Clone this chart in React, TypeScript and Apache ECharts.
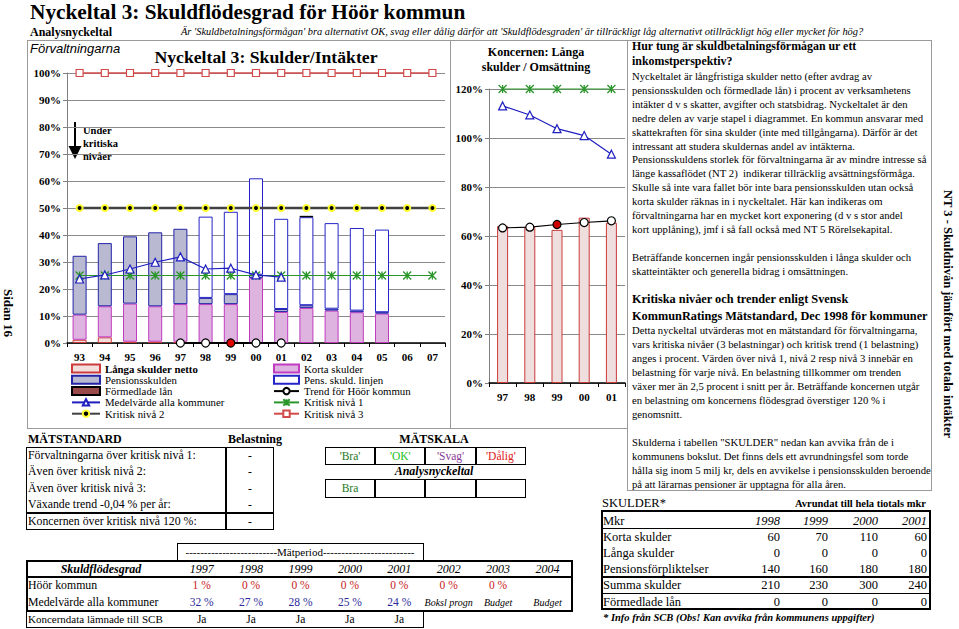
import React, { useEffect, useRef } from 'react';
import * as echarts from 'echarts';

// ---------- chart data ----------
const years = ['93', '94', '95', '96', '97', '98', '99', '00', '01', '02', '03', '04', '05', '06', '07'];
const langaSkulder = [1.2, 2.1, 0.5, 0.5, 0.5, null, null, null, null, null, null, null, null, null, null];
const kortaSkulder = [9.3, 11.5, 14.1, 13.1, 13.9, 14.4, 14.4, 24.1, 11.5, 13.0, 12.0, 11.4, 10.9, null, null];
const pensionsskulden = [21.8, 23.4, 24.9, 27.4, 27.9, 2.3, 3.7, 1.2, 1.1, 1.0, 0.7, 0.6, 0.5, null, null];
const pensLinjen = [null, null, null, null, null, 30.1, 30.5, 35.7, 33.4, 32.6, 31.7, 30.6, 30.6, null, null];
const formedladeLan = [null, null, null, null, null, null, null, null, null, 0.5, null, null, null, null, null];
const medelvarde = [23.7, 25.2, 27.4, 29.9, 31.9, 27.4, 27.7, 25.2, 24.4, null, null, null, null, null, null];
const kritisk1 = [25, 25, 25, 25, 25, 25, 25, 25, 25, 25, 25, 25, 25, 25, 25];
const kritisk2 = [50, 50, 50, 50, 50, 50, 50, 50, 50, 50, 50, 50, 50, 50, 50];
const kritisk3 = [100, 100, 100, 100, 100, 100, 100, 100, 100, 100, 100, 100, 100, 100, 100];
const trendHoor = [null, null, null, null, 0, 0, 0, 0, 0, null, null, null, null, null, null];
const yTicksMain = [0, 100, 10];

const koncYears = ['97', '98', '99', '00', '01'];
const koncLanga = [64.1, 63.6, 62.5, 67.5, 65.4];
const koncMedel = [113.1, 109.4, 103.8, 101.0, 93.4];
const koncKritisk = [120, 120, 120, 120, 120];
const koncTrend = [63.3, 63.6, 64.7, 65.5, 66.2];
const yTicksKonc = [0, 120, 20];

// ---------- table data ----------
const matYears = ['1997', '1998', '1999', '2000', '2001', '2002', '2003', '2004'];
const hoorValues = ['1 %', '0 %', '0 %', '0 %', '0 %', '0 %', '0 %', ''];
const medelValues = ['32 %', '27 %', '28 %', '25 %', '24 %'];
const medelNotes = ['Boksl progn', 'Budget', 'Budget'];
const koncernData = ['Ja', 'Ja', 'Ja', 'Ja', 'Ja'];
const skulderYears = ['1998', '1999', '2000', '2001'];
const kortaMkr = [60, 70, 110, 60];
const langaMkr = [0, 0, 0, 0];
const pensMkr = [140, 160, 180, 180];
const summaMkr = [210, 230, 300, 240];
const formedlMkr = [0, 0, 0, 0];
const matstandardRows = [
  'Förvaltningarna över kritisk nivå 1:',
  'Även över kritisk nivå 2:',
  'Även över kritisk nivå 3:',
  'Växande trend -0,04 % per år:',
  'Koncernen över kritisk nivå 120 %:',
];
const belastning = ['-', '-', '-', '-', '-'];
const matskala = [
  { t: "'Bra'", c: '#1a7a1a' },
  { t: "'OK'", c: '#22c022' },
  { t: "'Svag'", c: '#8a3a9a' },
  { t: "'Dålig'", c: '#e02020' },
];

const heading1 = ['Hur tung är skuldbetalningsförmågan ur ett', 'inkomstperspektiv?'];
const body1 = [
  'Nyckeltalet är långfristiga skulder netto (efter avdrag av',
  'pensionsskulden och förmedlade lån) i procent av verksamhetens',
  'intäkter d v s skatter, avgifter och statsbidrag. Nyckeltalet är den',
  'nedre delen av varje stapel i diagrammet. En kommun ansvarar med',
  'skattekraften för sina skulder (inte med tillgångarna). Därför är det',
  'intressant att studera skuldernas andel av intäkterna.',
  'Pensionsskuldens storlek för förvaltningarna är av mindre intresse så',
  'länge kassaflödet (NT 2)  indikerar tillräcklig avsättningsförmåga.',
  'Skulle så inte vara fallet bör inte bara pensionsskulden utan också',
  'korta skulder räknas in i nyckeltalet. Här kan indikeras om',
  'förvaltningarna har en mycket kort exponering (d v s stor andel',
  'kort upplåning), jmf i så fall också med NT 5 Rörelsekapital.',
  '',
  'Beträffande koncernen ingår pensionsskulden i långa skulder och',
  'skatteintäkter och generella bidrag i omsättningen.',
];
const heading2 = ['Kritiska nivåer och trender enligt Svensk', 'KommunRatings Mätstandard, Dec 1998 för kommuner'];
const body2 = [
  'Detta nyckeltal utvärderas mot en mätstandard för förvaltningarna,',
  'vars kritiska nivåer (3 belastningar) och kritisk trend (1 belastning)',
  'anges i procent. Värden över nivå 1, nivå 2 resp nivå 3 innebär en',
  'belastning för varje nivå. En belastning tillkommer om trenden',
  'växer mer än 2,5 procent i snitt per år. Beträffande koncernen utgår',
  'en belastning om koncernens flödesgrad överstiger 120 % i',
  'genomsnitt.',
  '',
  'Skulderna i tabellen "SKULDER" nedan kan avvika från de i',
  'kommunens bokslut. Det finns dels ett avrundningsfel som torde',
  'hålla sig inom 5 milj kr, dels en avvikelse i pensionsskulden beroende',
  'på att lärarnas pensioner är upptagna för alla åren.',
];

const SERIF = 'Liberation Serif';
const FONT = "'Liberation Serif', 'Times New Roman', serif";
const asterisk = 'path://M0,0L10,10M10,0L0,10M5,0L5,10';

const RED = '#cc3a3a';
const BLUE = '#1f1fbf';
const GREEN = '#2a962a';

function buildOption(): any {
  const lbl = { fontFamily: SERIF, fontSize: 11, fontWeight: 'bold', color: '#000' };
  const xAx = (gi: number, data: string[]) => ({
    type: 'category',
    gridIndex: gi,
    data,
    axisLine: { lineStyle: { color: '#000', width: 1.5 } },
    axisTick: { show: true, length: 4, lineStyle: { color: '#000' } },
    axisLabel: { ...lbl, margin: 8, interval: 0 },
    splitLine: { show: false },
  });
  const yAx = (gi: number, t: number[]) => ({
    type: 'value',
    gridIndex: gi,
    min: t[0],
    max: t[1],
    interval: t[2],
    axisLine: { show: true, lineStyle: { color: '#808080' } },
    axisTick: { show: true, length: 4, lineStyle: { color: '#808080' } },
    axisLabel: { ...lbl, formatter: '{value}%', margin: 6 },
    splitLine: { show: true, lineStyle: { color: '#8a8a8a', width: 1 } },
  });
  const bar = (name: string, data: any[], color: string, border: string) => ({
    type: 'bar',
    name,
    data,
    stack: 'a',
    barWidth: 14,
    xAxisIndex: 0,
    yAxisIndex: 0,
    itemStyle: { color, borderColor: border, borderWidth: 1 },
    z: 2,
  });
  const legText = { fontFamily: SERIF, fontSize: 10.8, color: '#000', lineHeight: 10 };
  return {
    animation: false,
    textStyle: { fontFamily: SERIF },
    grid: [
      { left: 67, top: 73, width: 378, height: 270 },
      { left: 489, top: 89, width: 136, height: 294 },
    ],
    xAxis: [xAx(0, years), xAx(1, koncYears)],
    yAxis: [yAx(0, yTicksMain), yAx(1, yTicksKonc)],
    legend: [
      {
        left: 66,
        top: 358,
        orient: 'vertical',
        itemWidth: 28,
        itemHeight: 8,
        itemGap: 0.3,
        selectedMode: false,
        textStyle: legText,
        data: [
          { name: 'Långa skulder netto', icon: 'rect', textStyle: { fontWeight: 'bold' } },
          { name: 'Pensionsskulden', icon: 'rect' },
          { name: 'Förmedlade lån', icon: 'rect' },
          'Medelvärde alla kommuner',
          'Kritisk nivå 2',
        ],
      },
      {
        left: 268,
        top: 358,
        orient: 'vertical',
        itemWidth: 25,
        itemHeight: 8,
        itemGap: 0.3,
        selectedMode: false,
        textStyle: legText,
        data: [
          { name: 'Korta skulder', icon: 'rect' },
          { name: 'Pens. skuld. linjen', icon: 'rect' },
          'Trend för Höör kommun',
          'Kritisk nivå 1',
          'Kritisk nivå 3',
        ],
      },
    ],
    series: [
      bar('Långa skulder netto', langaSkulder, '#f3dede', RED),
      bar('Korta skulder', kortaSkulder, '#dfb3e0', '#c03cc0'),
      bar('Pensionsskulden', pensionsskulden, '#b9b9d2', '#2424a8'),
      bar('Pens. skuld. linjen', pensLinjen, '#ffffff', '#2424c8'),
      bar('Förmedlade lån', formedladeLan, '#9a4a4a', '#000000'),
      {
        type: 'line', name: 'Medelvärde alla kommuner', data: medelvarde,
        xAxisIndex: 0, yAxisIndex: 0, z: 6,
        symbol: 'triangle', symbolSize: 8,
        lineStyle: { color: BLUE, width: 1.2 },
        itemStyle: { color: '#ffffff', borderColor: BLUE, borderWidth: 1.2 },
      },
      {
        type: 'line', name: 'Kritisk nivå 1', data: kritisk1,
        xAxisIndex: 0, yAxisIndex: 0, z: 5,
        symbol: asterisk, symbolSize: 8,
        lineStyle: { color: GREEN, width: 1.2 },
        itemStyle: { color: GREEN, borderColor: GREEN, borderWidth: 1.3 },
      },
      {
        type: 'line', name: 'Kritisk nivå 2', data: kritisk2,
        xAxisIndex: 0, yAxisIndex: 0, z: 5,
        symbol: 'circle', symbolSize: 6,
        lineStyle: { color: '#404040', width: 2.5 },
        itemStyle: { color: '#000000', borderColor: '#ffff30', borderWidth: 2 },
      },
      {
        type: 'line', name: 'Kritisk nivå 3', data: kritisk3,
        xAxisIndex: 0, yAxisIndex: 0, z: 5, clip: false,
        symbol: 'rect', symbolSize: 7,
        lineStyle: { color: '#d24a4a', width: 1.3 },
        itemStyle: { color: '#ffffff', borderColor: '#d24a4a', borderWidth: 1.2 },
      },
      {
        type: 'line', name: 'Trend för Höör kommun',
        data: trendHoor.map((v, i) => (i === 6 ? { value: v, itemStyle: { color: '#e00000' } } : v)),
        xAxisIndex: 0, yAxisIndex: 0, z: 7, clip: false,
        symbol: 'circle', symbolSize: 8,
        lineStyle: { color: '#000000', width: 2 },
        itemStyle: { color: '#ffffff', borderColor: '#000000', borderWidth: 1.2 },
      },
      // Koncernen
      {
        type: 'bar', name: 'Koncernen långa skulder', data: koncLanga,
        xAxisIndex: 1, yAxisIndex: 1, barWidth: 11,
        itemStyle: { color: '#efdede', borderColor: RED, borderWidth: 1 },
      },
      {
        type: 'line', name: 'Koncernen medelvärde', data: koncMedel,
        xAxisIndex: 1, yAxisIndex: 1, z: 6,
        symbol: 'triangle', symbolSize: 8,
        lineStyle: { color: BLUE, width: 1.2 },
        itemStyle: { color: '#ffffff', borderColor: BLUE, borderWidth: 1.2 },
      },
      {
        type: 'line', name: 'Koncernen kritisk nivå', data: koncKritisk,
        xAxisIndex: 1, yAxisIndex: 1, z: 5, clip: false,
        symbol: asterisk, symbolSize: 8,
        lineStyle: { color: GREEN, width: 1.2 },
        itemStyle: { color: GREEN, borderColor: GREEN, borderWidth: 1.3 },
      },
      {
        type: 'line', name: 'Koncernen trend',
        data: koncTrend.map((v, i) => (i === 2 ? { value: v, itemStyle: { color: '#d00000' } } : v)),
        xAxisIndex: 1, yAxisIndex: 1, z: 7,
        symbol: 'circle', symbolSize: 8,
        lineStyle: { color: '#000000', width: 1.2 },
        itemStyle: { color: '#ffffff', borderColor: '#000000', borderWidth: 1.2 },
      },
    ],
    graphic: [
      { type: 'text', x: 30, y: 48, style: { text: 'Förvaltningarna', font: 'italic 13px "Liberation Sans"', fill: '#000', align: 'left', verticalAlign: 'middle' } },
      { type: 'text', x: 266, y: 57, style: { text: 'Nyckeltal 3: Skulder/Intäkter', font: 'bold 17.7px "Liberation Serif"', fill: '#000', align: 'center', verticalAlign: 'middle' } },
      { type: 'text', x: 536, y: 52, style: { text: 'Koncernen: Långa', font: 'bold 12px "Liberation Serif"', fill: '#000', align: 'center', verticalAlign: 'middle' } },
      { type: 'text', x: 536, y: 67, style: { text: 'skulder / Omsättning', font: 'bold 12px "Liberation Serif"', fill: '#000', align: 'center', verticalAlign: 'middle' } },
      { type: 'line', shape: { x1: 75, y1: 122, x2: 75, y2: 148 }, style: { stroke: '#000', lineWidth: 2 } },
      { type: 'polygon', shape: { points: [[68.5, 146], [81.5, 146], [75, 159]] }, style: { fill: '#000' } },
      { type: 'text', x: 83, y: 130, style: { text: 'Under', font: 'bold 10.5px "Liberation Serif"', fill: '#000', align: 'left', verticalAlign: 'middle' } },
      { type: 'text', x: 83, y: 143, style: { text: 'kritiska', font: 'bold 10.5px "Liberation Serif"', fill: '#000', align: 'left', verticalAlign: 'middle' } },
      { type: 'text', x: 83, y: 156, style: { text: 'nivåer', font: 'bold 10.5px "Liberation Serif"', fill: '#000', align: 'left', verticalAlign: 'middle' } },
    ],
  };
}

type TP = { x: number; y: number; w?: number; a?: 'left' | 'center' | 'right'; s?: number; b?: boolean; i?: boolean; c?: string; children?: any };
function T({ x, y, w = 0, a = 'left', s = 12, b, i, c = '#000', children }: TP) {
  const lh = Math.round(s * 1.3);
  let left = x;
  if (a === 'center') left = x - w / 2;
  if (a === 'right') left = x - w;
  return (
    <div
      style={{
        position: 'absolute', left, top: y - lh / 2, width: w || undefined, textAlign: a,
        fontSize: s, lineHeight: lh + 'px', fontWeight: b ? 'bold' : 'normal',
        fontStyle: i ? 'italic' : 'normal', color: c, whiteSpace: 'pre', fontFamily: FONT,
      }}
    >
      {children}
    </div>
  );
}
function HL({ x1, x2, y, w = 1, c = '#000' }: { x1: number; x2: number; y: number; w?: number; c?: string }) {
  return <div style={{ position: 'absolute', left: x1, top: y - w / 2, width: x2 - x1, height: w, background: c }} />;
}
function VL({ x, y1, y2, w = 1, c = '#000' }: { x: number; y1: number; y2: number; w?: number; c?: string }) {
  return <div style={{ position: 'absolute', left: x - w / 2, top: y1, width: w, height: y2 - y1, background: c }} />;
}
function Box({ x, y, w, h, bw = 1, c = '#000' }: { x: number; y: number; w: number; h: number; bw?: number; c?: string }) {
  return <div style={{ position: 'absolute', left: x, top: y, width: w, height: h, border: `${bw}px solid ${c}`, boxSizing: 'border-box' }} />;
}

export default function App() {
  const ref = useRef<HTMLDivElement>(null);
  useEffect(() => {
    const chart = echarts.init(ref.current as HTMLDivElement, null, { renderer: 'svg' });
    chart.setOption(buildOption());
    return () => chart.dispose();
  }, []);

  const colX = matYears.map((_, k) => 201.7 + 49.4 * k);
  const skX = [780, 828, 878, 927];
  const frame = '#9a9a9a';
  const msY = [455, 471.5, 488, 504.5, 521.5];

  return (
    <div style={{ position: 'absolute', left: 0, top: 0, width: 959, height: 629, background: '#fff', overflow: 'hidden', fontFamily: FONT, color: '#000' }}>
      {/* frames */}
      <HL x1={27} x2={627} y={40} c={frame} />
      <VL x={27} y1={40} y2={428} c={frame} />
      <VL x={450} y1={40} y2={428} c={frame} />
      <HL x1={27} x2={627} y={428} c={frame} />
      <Box x={627} y={40} w={305} h={451} c={frame} />

      <div ref={ref} style={{ position: 'absolute', left: 0, top: 0, width: 959, height: 629 }} />

      {/* top titles */}
      <T x={30} y={12} s={21.3} b>Nyckeltal 3: Skuldflödesgrad för Höör kommun</T>
      <T x={30} y={32} s={12} b>Analysnyckeltal</T>
      <T x={181} y={32} s={10.4} i>
        {"Är 'Skuldbetalningsförmågan' bra alternativt OK, svag eller dålig därför att 'Skuldflödesgraden' är tillräckligt låg alternativt otillräckligt hög eller mycket för hög?"}
      </T>

      {/* side texts */}
      <div style={{ position: 'absolute', left: 0, top: 289, width: 16, writingMode: 'vertical-rl', fontSize: 13, fontWeight: 'bold', lineHeight: '16px', whiteSpace: 'nowrap' }}>Sidan 16</div>
      <div style={{ position: 'absolute', left: 940, top: 190, width: 16, writingMode: 'vertical-rl', fontSize: 12.5, fontWeight: 'bold', lineHeight: '16px', whiteSpace: 'nowrap' }}>NT 3 - Skuldnivån jämfört med totala intäkter</div>

      {/* right text box */}
      {heading1.map((t, k) => (
        <T key={'h1' + k} x={632} y={46 + 15 * k} s={11.9} b>{t}</T>
      ))}
      {body1.map((t, k) => (
        <T key={'b1' + k} x={632} y={76 + 13.9 * k} s={10.7}>{t}</T>
      ))}
      {heading2.map((t, k) => (
        <T key={'h2' + k} x={632} y={299 + 16.5 * k} s={12.3} b>{t}</T>
      ))}
      {body2.map((t, k) => (
        <T key={'b2' + k} x={632} y={330 + 14 * k} s={10.7}>{t}</T>
      ))}

      {/* MÄTSTANDARD */}
      <T x={28} y={439} s={12} b>MÄTSTANDARD</T>
      <T x={255} y={439} w={80} a="center" s={12} b>Belastning</T>
      <Box x={26} y={447} w={248} h={83} bw={1.5} />
      <VL x={226} y1={447} y2={530} w={1.2} />
      <HL x1={26} x2={274} y={513} w={1.2} />
      {matstandardRows.map((t, k) => (
        <T key={'ms' + k} x={28} y={msY[k]} s={11.8}>{t}</T>
      ))}
      {belastning.map((t, k) => (
        <T key={'bl' + k} x={250} y={msY[k]} w={40} a="center" s={11.5}>{t}</T>
      ))}

      {/* MÄTSKALA */}
      <T x={434} y={439} w={100} a="center" s={12} b>MÄTSKALA</T>
      <Box x={325} y={447} w={201} h={18} bw={1.5} />
      {[375, 425, 476].map((x) => <VL key={'ms1' + x} x={x} y1={447} y2={465} w={1.2} />)}
      {matskala.map((m, k) => (
        <T key={'sk' + k} x={350 + 50.3 * k} y={456} w={50} a="center" s={11.5} c={m.c}>{m.t}</T>
      ))}
      <T x={434} y={471} w={140} a="center" s={12} b i>Analysnyckeltal</T>
      <Box x={325} y={479} w={201} h={19} bw={1.5} />
      {[375, 425, 476].map((x) => <VL key={'ms2' + x} x={x} y1={479} y2={498} w={1.2} />)}
      <T x={350} y={488.5} w={50} a="center" s={11.5} c="#1a7a1a">Bra</T>

      {/* Mätperiod table */}
      <Box x={177} y={543} w={247} h={18} bw={1.2} />
      <T x={300} y={552} w={246} a="center" s={11}>-------------------------Mätperiod-------------------------</T>
      <Box x={26} y={560} w={547} h={52} bw={2} />
      <HL x1={26} x2={573} y={577} w={1.2} />
      <T x={101} y={568.5} w={150} a="center" s={12} b i>Skuldflödesgrad</T>
      {matYears.map((t, k) => (
        <T key={'my' + k} x={colX[k]} y={568.5} w={49} a="center" s={12} i>{t}</T>
      ))}
      <T x={28} y={585.5} s={11.8}>Höör kommun</T>
      {hoorValues.map((t, k) => (
        <T key={'hv' + k} x={colX[k]} y={585.5} w={49} a="center" s={11.5} c="#c82020">{t}</T>
      ))}
      <T x={28} y={602} s={11.8}>Medelvärde alla kommuner</T>
      {medelValues.map((t, k) => (
        <T key={'mv' + k} x={colX[k]} y={602} w={49} a="center" s={11.5} c="#2a2a9a">{t}</T>
      ))}
      {medelNotes.map((t, k) => (
        <T key={'mn' + k} x={colX[k + 5]} y={602.5} w={60} a="center" s={10} i>{t}</T>
      ))}
      <Box x={26} y={611} w={398} h={17} bw={1.5} />
      <T x={28} y={619} s={11}>Koncerndata lämnade till SCB</T>
      {koncernData.map((t, k) => (
        <T key={'kd' + k} x={colX[k]} y={619} w={49} a="center" s={11.5}>{t}</T>
      ))}

      {/* SKULDER table */}
      <T x={602} y={503} s={12.5}>SKULDER*</T>
      <T x={926} y={504} w={200} a="right" s={10.5} b>Avrundat till hela tiotals mkr</T>
      <Box x={601} y={510} w={330} h={100} bw={2} />
      <HL x1={601} x2={931} y={528.5} w={1.2} />
      <HL x1={601} x2={931} y={577} w={1.5} />
      <HL x1={601} x2={931} y={593.5} w={1.5} />
      <T x={603} y={520.5} s={12.5}>Mkr</T>
      {skulderYears.map((t, k) => (
        <T key={'sy' + k} x={skX[k]} y={520.5} w={50} a="right" s={12.5} i>{t}</T>
      ))}
      {[
        { l: 'Korta skulder', v: kortaMkr, y: 536.5 },
        { l: 'Långa skulder', v: langaMkr, y: 552.5 },
        { l: 'Pensionsförpliktelser', v: pensMkr, y: 568.5 },
        { l: 'Summa skulder', v: summaMkr, y: 585 },
        { l: 'Förmedlade lån', v: formedlMkr, y: 601.5 },
      ].map((r, k) => (
        <React.Fragment key={'sr' + k}>
          <T x={603} y={r.y} s={12.5}>{r.l}</T>
          {r.v.map((v, j) => (
            <T key={'sv' + j} x={skX[j]} y={r.y} w={50} a="right" s={12.5}>{String(v)}</T>
          ))}
        </React.Fragment>
      ))}
      <T x={603} y={618} s={10.5} b i>* Info från SCB (Obs! Kan avvika från kommunens uppgifter)</T>
    </div>
  );
}
